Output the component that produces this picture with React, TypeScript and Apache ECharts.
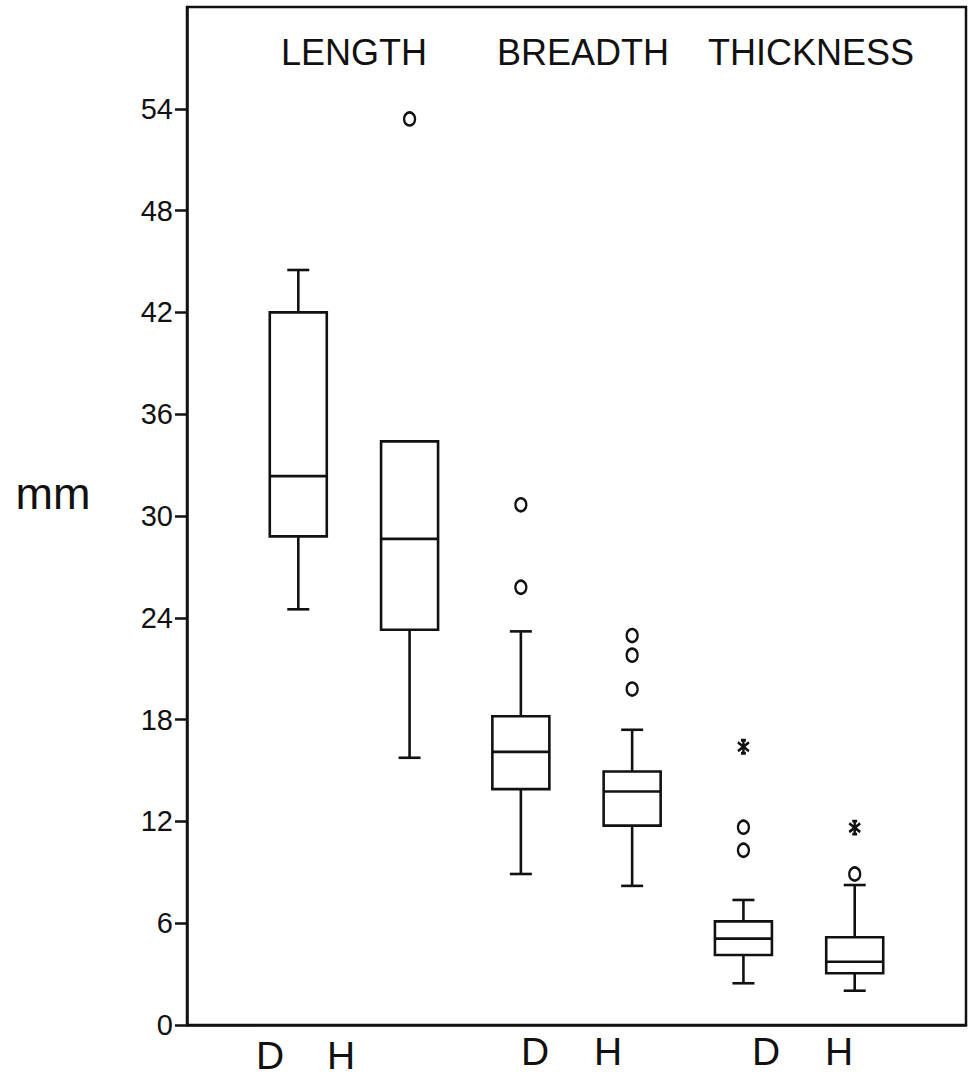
import React, { useEffect, useRef } from "react";
import * as echarts from "echarts";

// ---- data ----
const groups = ["Length D", "Length H", "Breadth D", "Breadth H", "Thickness D", "Thickness H"];
const positions = [1, 2, 3, 4, 5, 6];
const whiskerLow = [24.5, 15.75, 8.9, 8.2, 2.46, 2.02];
const q1 = [28.8, 23.3, 13.9, 11.75, 4.13, 3.05];
const median = [32.35, 28.65, 16.1, 13.76, 5.09, 3.73];
const q3 = [42.0, 34.4, 18.2, 14.94, 6.11, 5.17];
const whiskerHigh = [44.5, 34.4, 23.2, 17.4, 7.37, 8.25];

const circleOutlierGroup = [2, 3, 3, 4, 4, 4, 5, 5, 6];
const circleOutlierValue = [53.4, 30.66, 25.8, 22.95, 21.8, 19.8, 11.66, 10.3, 8.9];
const starOutlierGroup = [5, 6];
const starOutlierValue = [16.4, 11.63];

const yTicks = [0, 6, 12, 18, 24, 30, 36, 42, 48, 54];
const measureTitles = ["LENGTH", "BREADTH", "THICKNESS"];
const groupLabels = ["D", "H", "D", "H", "D", "H"];
const yAxisName = "mm";

const INK = "#111";

export default function App() {
  const ref = useRef<HTMLDivElement>(null);

  useEffect(() => {
    if (!ref.current) return;
    const chart = echarts.init(ref.current, undefined, { renderer: "svg" });

    const boxData = positions.map((p, i) => [p, whiskerLow[i], q1[i], median[i], q3[i], whiskerHigh[i]]);
    const circleData = circleOutlierGroup.map((g, i) => [g, circleOutlierValue[i]]);
    const starData = starOutlierGroup.map((g, i) => [g, starOutlierValue[i]]);

    const titleX = [354, 583, 811];
    const labelX = [270, 341, 535, 608, 766, 839];
    const labelY = [1055, 1055, 1051, 1051, 1051, 1051];

    const graphics: any[] = [];
    measureTitles.forEach((t, i) => {
      graphics.push({
        type: "text",
        x: titleX[i],
        y: 52,
        style: {
          text: t,
          fill: INK,
          font: '36px "Liberation Sans", Arial, sans-serif',
          align: "center",
          verticalAlign: "middle",
        },
      });
    });
    groupLabels.forEach((t, i) => {
      graphics.push({
        type: "text",
        x: labelX[i],
        y: labelY[i],
        style: {
          text: t,
          fill: INK,
          font: '39px "Liberation Sans", Arial, sans-serif',
          align: "center",
          verticalAlign: "middle",
        },
      });
    });
    graphics.push({
      type: "text",
      x: 53,
      y: 493,
      style: {
        text: yAxisName,
        fill: INK,
        font: '45px "Liberation Sans", Arial, sans-serif',
        align: "center",
        verticalAlign: "middle",
      },
    });

    const option: any = {
      animation: false,
      backgroundColor: "#fff",
      grid: {
        left: 187,
        right: 2,
        top: 7,
        bottom: 51,
        show: true,
        borderColor: INK,
        borderWidth: 2.5,
        backgroundColor: "transparent",
      },
      xAxis: {
        type: "value",
        min: 0,
        max: 7,
        axisLine: { show: true, lineStyle: { color: INK, width: 2.5 } },
        axisTick: { show: false },
        axisLabel: { show: false },
        splitLine: { show: false },
      },
      yAxis: {
        type: "value",
        min: 0,
        max: 60,
        interval: 6,
        axisLine: { show: true, lineStyle: { color: INK, width: 2.5 } },
        axisTick: {
          show: true,
          length: 12,
          customValues: yTicks,
          lineStyle: { color: INK, width: 2.5 },
        },
        axisLabel: {
          show: true,
          customValues: yTicks,
          margin: 14,
          color: INK,
          fontSize: 29,
          fontFamily: '"Liberation Sans Narrow", "Arial Narrow", "Liberation Sans", sans-serif',
        },
        splitLine: { show: false },
      },
      graphic: graphics,
      series: [
        {
          type: "custom",
          name: "boxes",
          data: boxData,
          encode: { x: 0, y: [1, 2, 3, 4, 5] },
          renderItem: (params: any, api: any) => {
            const x = api.value(0);
            const lo = api.coord([x, api.value(1)]);
            const b1 = api.coord([x, api.value(2)]);
            const md = api.coord([x, api.value(3)]);
            const b3 = api.coord([x, api.value(4)]);
            const hi = api.coord([x, api.value(5)]);
            const cx = lo[0];
            const half = 28.5;
            const cap = 11;
            const st = { stroke: INK, lineWidth: 2.6, fill: null };
            const children: any[] = [
              { type: "line", shape: { x1: cx, y1: b3[1], x2: cx, y2: hi[1] }, style: st },
              { type: "line", shape: { x1: cx, y1: b1[1], x2: cx, y2: lo[1] }, style: st },
              { type: "line", shape: { x1: cx - cap, y1: hi[1], x2: cx + cap, y2: hi[1] }, style: st },
              { type: "line", shape: { x1: cx - cap, y1: lo[1], x2: cx + cap, y2: lo[1] }, style: st },
              {
                type: "rect",
                shape: { x: cx - half, y: b3[1], width: half * 2, height: b1[1] - b3[1] },
                style: { stroke: INK, lineWidth: 2.6, fill: "#fff" },
              },
              { type: "line", shape: { x1: cx - half, y1: md[1], x2: cx + half, y2: md[1] }, style: st },
            ];
            return { type: "group", children };
          },
          z: 3,
        },
        {
          type: "scatter",
          name: "outliers",
          data: circleData,
          symbol: "circle",
          symbolSize: [11, 13],
          itemStyle: { color: "#fff", borderColor: INK, borderWidth: 2.4, opacity: 1 },
          z: 4,
        },
        {
          type: "scatter",
          name: "extremes",
          data: starData,
          symbol: "path://M5,0 L5,12 M0.5,2 L9.5,10 M9.5,2 L0.5,10 M3,0 L7,0 M3,12 L7,12",
          symbolSize: [11, 13],
          itemStyle: { color: "none", borderColor: INK, borderWidth: 2.6, opacity: 1 },
          z: 4,
        },
      ],
    };

    chart.setOption(option);
    return () => chart.dispose();
  }, []);

  return (
    <div
      ref={ref}
      style={{ position: "fixed", left: 0, top: 0, width: 968, height: 1076, background: "#fff" }}
    />
  );
}
